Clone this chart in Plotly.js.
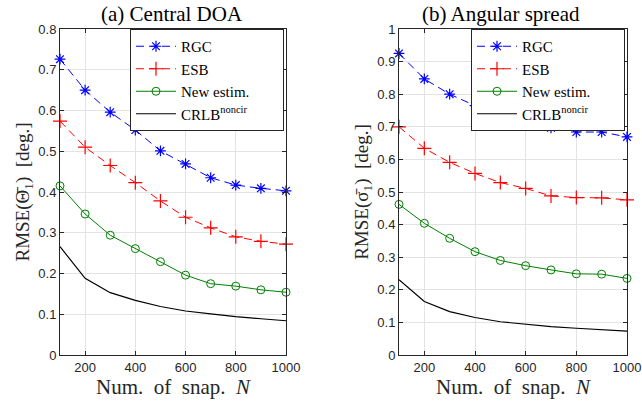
<!DOCTYPE html>
<html>
<head>
<meta charset="utf-8">
<script src="https://cdn.plot.ly/plotly-3.0.1.min.js"></script>
<style>html,body{margin:0;padding:0;background:#fff;}#chart{width:642px;height:402px;}</style>
</head>
<body>
<div id="chart"></div>
<script>
// Number of snapshots
const snapshots = [100, 200, 300, 400, 500, 600, 700, 800, 900, 1000];

// (a) Central DOA
const doaRGC  = [0.726, 0.650, 0.596, 0.552, 0.501, 0.469, 0.435, 0.417, 0.409, 0.403];
const doaESB  = [0.574, 0.510, 0.465, 0.423, 0.378, 0.338, 0.312, 0.290, 0.279, 0.272];
const doaNew  = [0.415, 0.346, 0.294, 0.261, 0.229, 0.196, 0.175, 0.169, 0.160, 0.154];
const doaCRLB = [0.266, 0.188, 0.153, 0.134, 0.119, 0.108, 0.101, 0.094, 0.089, 0.084];

// (b) Angular spread
const spRGC  = [0.925, 0.847, 0.800, 0.765, 0.735, 0.709, 0.697, 0.684, 0.684, 0.669];
const spESB  = [0.700, 0.634, 0.591, 0.557, 0.529, 0.511, 0.488, 0.483, 0.482, 0.476];
const spNew  = [0.462, 0.404, 0.358, 0.317, 0.290, 0.274, 0.261, 0.249, 0.248, 0.235];
const spCRLB = [0.231, 0.164, 0.133, 0.115, 0.102, 0.094, 0.087, 0.082, 0.077, 0.073];

const sp = '\u00a0';
const seriesNames = ['RGC', 'ESB', 'New estim.', 'CRLB<sup>noncir</sup>' + sp.repeat(8)];
const xTicks = [200, 400, 600, 800, 1000];
const yTicksA = [0, 0.1, 0.2, 0.3, 0.4, 0.5, 0.6, 0.7, 0.8];
const yTicksB = [0, 0.1, 0.2, 0.3, 0.4, 0.5, 0.6, 0.7, 0.8, 0.9, 1];

const styles = [
  {line: {color: 'rgb(0,0,255)', width: 1, dash: '8px,5px'}, marker: {symbol: 'asterisk-open', size: 9, line: {color: 'rgb(0,0,255)', width: 1.2}}, mode: 'lines+markers'},
  {line: {color: 'rgb(255,0,0)', width: 1, dash: '8px,5px'}, marker: {symbol: 'cross-thin-open', size: 10, line: {color: 'rgb(255,0,0)', width: 1.2}}, mode: 'lines+markers'},
  {line: {color: 'rgb(0,128,0)', width: 1}, marker: {symbol: 'circle-open', size: 8, line: {color: 'rgb(0,128,0)', width: 1}}, mode: 'lines+markers'},
  {line: {color: 'rgb(0,0,0)', width: 1.2}, mode: 'lines'}
];

function makeTraces(ys, xa, ya, legend) {
  return ys.map((y, i) => Object.assign({
    x: snapshots, y: y, name: seriesNames[i], type: 'scatter',
    xaxis: xa, yaxis: ya, legend: legend, cliponaxis: false
  }, styles[i]));
}

const data = [].concat(
  makeTraces([doaRGC, doaESB, doaNew, doaCRLB], 'x', 'y', 'legend'),
  makeTraces([spRGC, spESB, spNew, spCRLB], 'x2', 'y2', 'legend2')
);

const W = 642, H = 402;
const tickFont = {family: 'Liberation Sans', size: 13, color: '#262626'};
const serif = 'Liberation Serif';

function xaxis(domain) {
  return {
    domain: domain, range: [100, 1000], tickvals: xTicks, ticktext: xTicks.map(String),
    ticks: 'inside', ticklen: 4, tickcolor: '#262626', showline: true, linecolor: '#262626', linewidth: 1, mirror: 'ticks',
    showgrid: true, gridcolor: '#e3e3e3', gridwidth: 1, zeroline: false, tickfont: tickFont,
    title: {text: 'Num.' + sp + ' of' + sp + ' snap.' + sp + ' <i>N</i>', font: {family: serif, size: 21, color: '#262626'}, standoff: 0}
  };
}
function yaxis(range, ticks, anchor, title) {
  return {
    domain: [1 - 355 / H, 1 - 29 / H], range: range, tickvals: ticks, ticktext: ticks.map(String), anchor: anchor,
    ticks: 'inside', ticklen: 4, tickcolor: '#262626', showline: true, linecolor: '#262626', linewidth: 1, mirror: 'ticks',
    showgrid: true, gridcolor: '#e3e3e3', gridwidth: 1, zeroline: false, tickfont: tickFont,
    title: {text: title, font: {family: serif, size: 19, color: '#262626'}, standoff: 3}
  };
}

const legendBase = {
  bgcolor: '#ffffff', bordercolor: '#262626', borderwidth: 1,
  font: {family: serif, size: 15, color: '#000'}, itemwidth: 40,
  xanchor: 'left', yanchor: 'top', tracegroupgap: 0
};

const layout = {
  width: W, height: H, margin: {l: 0, r: 0, t: 0, b: 0},
  paper_bgcolor: '#ffffff', plot_bgcolor: '#ffffff', showlegend: true,
  xaxis: Object.assign(xaxis([60 / W, 286 / W]), {anchor: 'y'}),
  yaxis: yaxis([0, 0.8], yTicksA, 'x', 'RMSE(Θ̄<sub>1</sub>)' + sp + ' [deg.]' + sp + sp + sp),
  xaxis2: Object.assign(xaxis([399 / W, 627 / W]), {anchor: 'y2'}),
  yaxis2: yaxis([0, 1], yTicksB, 'x2', 'RMSE(σ̄<sub>1</sub>)' + sp + ' [deg.]' + sp + sp + sp),
  legend: Object.assign({x: 130 / W, y: 1 - 29 / H}, legendBase),
  legend2: Object.assign({x: 471 / W, y: 1 - 29 / H}, legendBase),
  annotations: [
    {text: '(a) Central DOA', xref: 'paper', yref: 'paper', x: 172 / W, y: 1 - 14 / H, xanchor: 'center', yanchor: 'middle', showarrow: false, font: {family: serif, size: 21, color: '#000'}},
    {text: '(b) Angular spread', xref: 'paper', yref: 'paper', x: 501 / W, y: 1 - 14 / H, xanchor: 'center', yanchor: 'middle', showarrow: false, font: {family: serif, size: 21, color: '#000'}}
  ]
};

Plotly.newPlot('chart', data, layout, {displayModeBar: false, staticPlot: true});
</script>
</body>
</html>
